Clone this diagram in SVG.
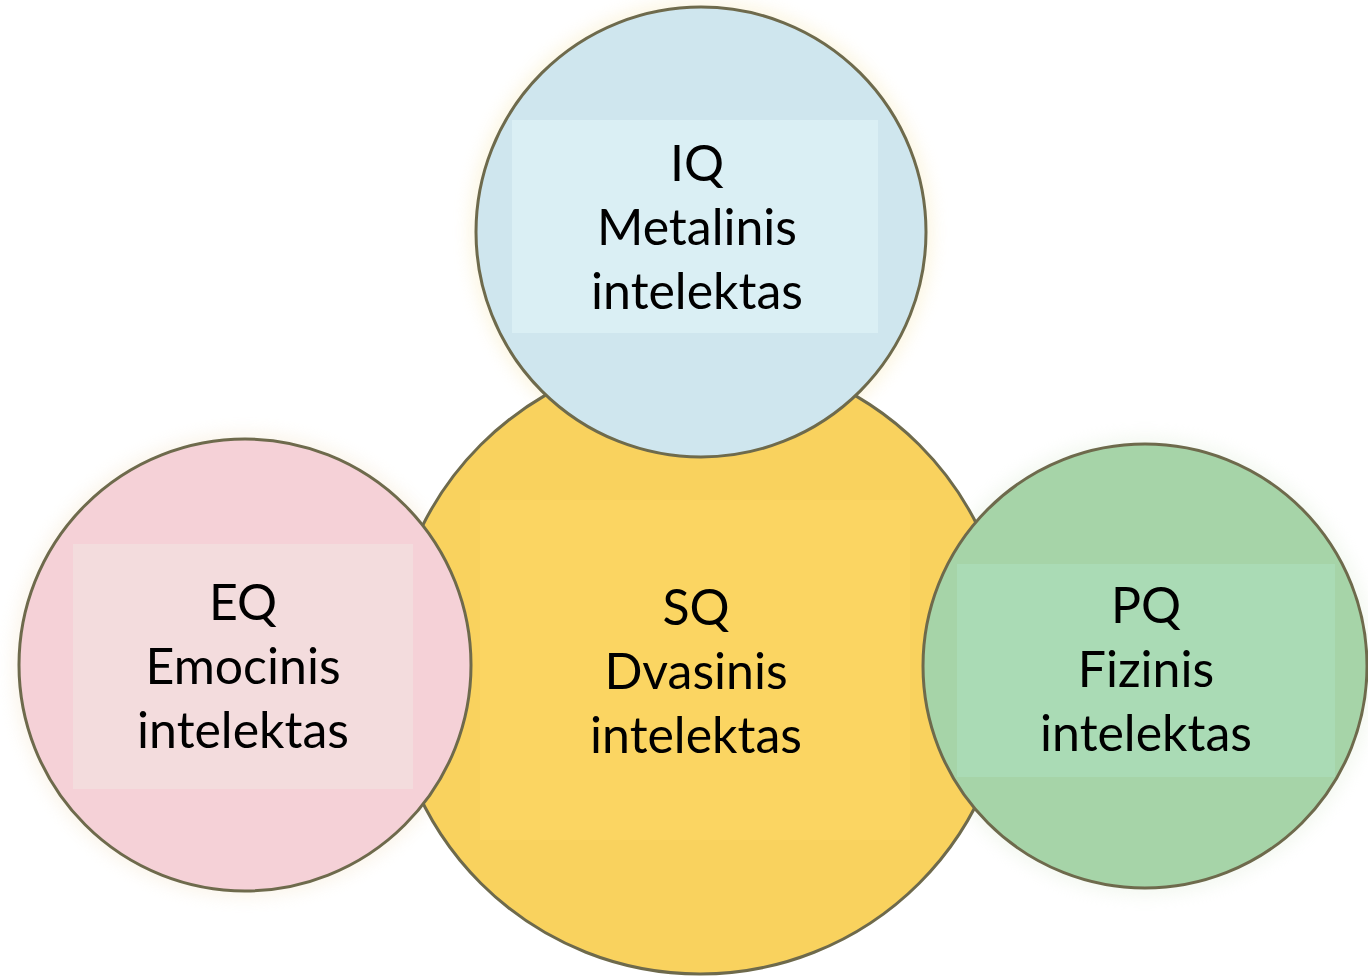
<svg xmlns="http://www.w3.org/2000/svg" width="1368" height="980" viewBox="0 0 1368 980">
<defs>
<style>
.c{stroke:#6e6a4c;stroke-width:3}
.t{font-family:Lato,"Open Sans","Liberation Sans",sans-serif;font-size:50px;fill:#000;text-anchor:middle}
</style>
<filter id="glow" x="-20%" y="-20%" width="140%" height="140%"><feGaussianBlur stdDeviation="8"/></filter>
</defs>
<rect width="1368" height="980" fill="#ffffff"/>
<g id="halo" filter="url(#glow)" opacity="0.35">
<circle cx="701" cy="232" r="232" fill="#f6e6b0"/>
<circle cx="245" cy="665" r="233" fill="#f3e3c8"/>
<circle cx="1145" cy="666" r="230" fill="#e0ecd8"/>
</g>
<g id="sq">
<circle class="c" cx="700" cy="664" r="310" fill="#f9d25e"/>
<rect x="480" y="500" width="430" height="340" fill="#fbd562"/>
<text class="t" x="696" y="625">SQ</text>
<text class="t" x="696" y="689">Dvasinis</text>
<text class="t" x="696" y="753">intelektas</text>
</g>
<g id="iq">
<circle class="c" cx="701" cy="232" r="225" fill="#cfe6ee"/>
<rect x="512" y="120" width="366" height="213" fill="#daeff4"/>
<text class="t" x="697" y="181">IQ</text>
<text class="t" x="697" y="245">Metalinis</text>
<text class="t" x="697" y="309">intelektas</text>
</g>
<g id="eq">
<circle class="c" cx="245" cy="665" r="226" fill="#f5d1d7"/>
<rect x="73" y="544" width="340" height="245" fill="#f3dcdd"/>
<text class="t" x="243" y="620">EQ</text>
<text class="t" x="243" y="684">Emocinis</text>
<text class="t" x="243" y="748">intelektas</text>
</g>
<g id="pq">
<circle class="c" cx="1145" cy="666" r="222" fill="#a6d4a8"/>
<rect x="957" y="564" width="378" height="213" fill="#aadbb5"/>
<text class="t" x="1146" y="623">PQ</text>
<text class="t" x="1146" y="687">Fizinis</text>
<text class="t" x="1146" y="751">intelektas</text>
</g>
<g id="connectors"></g>
</svg>
